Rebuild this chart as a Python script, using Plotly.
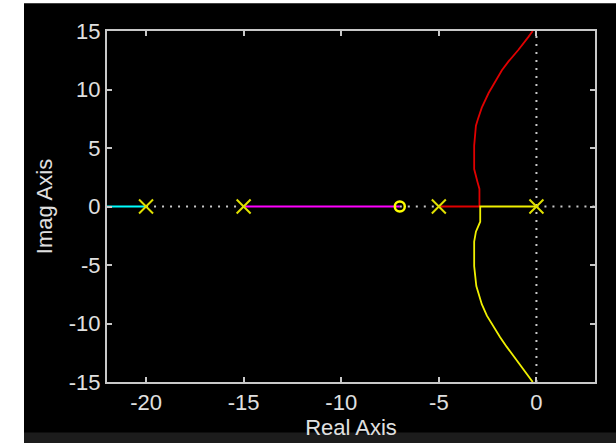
import plotly.graph_objects as go

# ---- data ----
pole_re = [-20, -15, -5, 0]
pole_im = [0, 0, 0, 0]
zero_re = [-7]
zero_im = [0]

cyan_re = [-22, -20]
cyan_im = [0, 0]
magenta_re = [-15, -7]
magenta_im = [0, 0]

red_re = [-5, -2.92, -2.92, -2.92, -3.02, -3.19, -3.19, -3.10, -3.00, -2.80, -2.45, -2.03, -1.77, -1.43, -0.92, -0.41, -0.19]
red_im = [0, 0, 0.7, 1.5, 2.1, 3.2, 5.2, 6.9, 7.45, 8.45, 9.7, 10.85, 11.65, 12.4, 13.4, 14.5, 15.0]

yellow_re = [0, -2.88, -2.88, -3.00, -3.10, -3.19, -3.19, -3.08, -2.97, -2.80, -2.54, -2.20, -1.86, -1.52, -1.09, -0.66, -0.19]
yellow_im = [0, 0, -1.3, -1.86, -2.15, -3.0, -5.1, -6.8, -7.5, -8.35, -9.33, -10.3, -11.17, -12.0, -13.0, -14.0, -15.0]

# dotted real-axis pieces visible between the coloured branches, and the imaginary axis
dotted_re = [-20, -15, None, -7, -5, None, 0, 3]
dotted_im = [0, 0, None, 0, 0, None, 0, 0]
imag_axis_re = [0, 0]
imag_axis_im = [-15, 15]

x_ticks = [-20, -15, -10, -5, 0]
y_ticks = [-15, -10, -5, 0, 5, 10, 15]
x_range = [-22, 3]
y_range = [-15, 15]

# ---- figure ----
W, H = 616, 443
ML, MR, MT, MB = 107, 21, 31, 58
PW, PH = W - ML - MR, H - MT - MB

fig = go.Figure()

dot = dict(color="#c8c8c8", width=2, dash="2px,6px")
fig.add_trace(go.Scatter(x=dotted_re, y=dotted_im, mode="lines", line=dot, hoverinfo="skip"))
fig.add_trace(go.Scatter(x=imag_axis_re, y=imag_axis_im, mode="lines", line=dot, hoverinfo="skip"))

fig.add_trace(go.Scatter(x=cyan_re, y=cyan_im, mode="lines", line=dict(color="#00ffff", width=2)))
fig.add_trace(go.Scatter(x=magenta_re, y=magenta_im, mode="lines", line=dict(color="#ff00ff", width=2)))
fig.add_trace(go.Scatter(x=red_re, y=red_im, mode="lines", line=dict(color="#e00000", width=1.8)))
fig.add_trace(go.Scatter(x=yellow_re, y=yellow_im, mode="lines", line=dict(color="#f0f000", width=1.8)))

fig.add_trace(go.Scatter(x=pole_re, y=pole_im, mode="markers",
                         marker=dict(symbol="x-thin", size=14, line=dict(color="#e0e000", width=2))))
fig.add_trace(go.Scatter(x=zero_re, y=zero_im, mode="markers",
                         marker=dict(symbol="circle-open", size=10, color="#ffff00", line=dict(color="#ffff00", width=2.5))))

font = dict(family="Liberation Sans, Arial, sans-serif", size=22, color="#e0e0e0")
axis_common = dict(showgrid=False, zeroline=False, showline=True, linecolor="#c8c8c8", linewidth=2,
                   mirror="ticks", ticks="inside", ticklen=5, tickwidth=2, tickcolor="#c8c8c8",
                   tickfont=font, fixedrange=True)

fig.update_layout(
    width=W, height=H,
    margin=dict(l=ML, r=MR, t=MT, b=MB),
    paper_bgcolor="#000000", plot_bgcolor="#000000",
    showlegend=False,
    xaxis=dict(range=x_range, tickvals=x_ticks, ticktext=[str(v) for v in x_ticks],
               title=dict(text="Real Axis", font=font, standoff=0), **axis_common),
    yaxis=dict(range=y_range, tickvals=y_ticks, ticktext=[str(v) for v in y_ticks],
               title=dict(text="Imag Axis", font=font, standoff=10), **axis_common),
)

# white strip at left / top and dark strip at bottom of the figure window
def px_x(p):
    return (p - ML) / PW

def px_y(p):
    return (H - MB - p) / PH

fig.add_shape(type="rect", xref="paper", yref="paper", x0=px_x(-5), x1=px_x(24), y0=px_y(H + 5), y1=px_y(-5),
              fillcolor="#ffffff", line=dict(width=0), layer="above")
fig.add_shape(type="rect", xref="paper", yref="paper", x0=px_x(-5), x1=px_x(W + 5), y0=px_y(3), y1=px_y(-5),
              fillcolor="#ffffff", line=dict(width=0), layer="above")
fig.add_shape(type="rect", xref="paper", yref="paper", x0=px_x(24), x1=px_x(W + 5), y0=px_y(H + 5), y1=px_y(436),
              fillcolor="#1c1c1c", line=dict(width=0), layer="above")

fig.write_html("out.html", config={"displayModeBar": False},
               post_script="document.body.style.margin='0';document.body.style.overflow='hidden';")
